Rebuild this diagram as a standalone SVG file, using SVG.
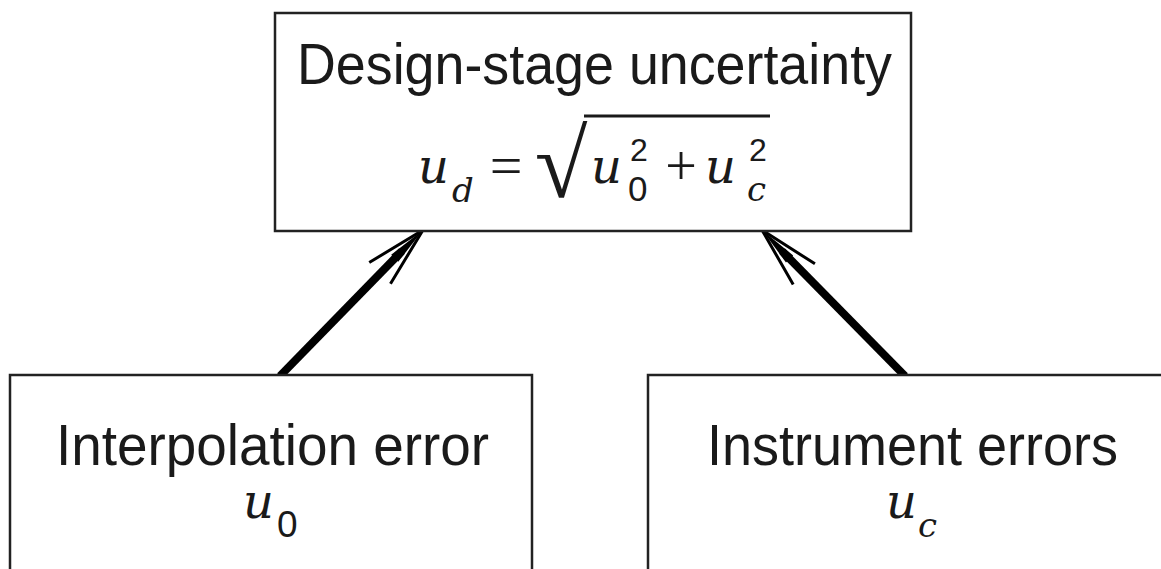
<svg xmlns="http://www.w3.org/2000/svg" width="1161" height="569" viewBox="0 0 1161 569">
<style>
.box{fill:#fff;stroke:#222;stroke-width:2.5}
.lbl{font-family:"Liberation Sans",Arial,sans-serif;font-size:57px;fill:#1a1a1a;text-anchor:middle}
.mi{font-family:"DejaVu Serif","Liberation Serif",serif;font-style:italic;fill:#1a1a1a}
.mn{font-family:"Liberation Sans",Arial,sans-serif;fill:#1a1a1a}
.mo{font-family:"Liberation Serif","Times New Roman",serif;fill:#1a1a1a;text-anchor:middle}
.edge{stroke:#000;stroke-width:8;fill:none}
</style>
<defs>
<marker id="arr" markerUnits="userSpaceOnUse" orient="auto" markerWidth="80" markerHeight="40" viewBox="-70 -20 80 40" refX="0" refY="0">
<path d="M-61,-15 L0,0 L-61,15" fill="none" stroke="#000" stroke-width="3"/>
<path d="M0,0 L-40,-5 L-40,5 Z" fill="#000"/>
</marker>
</defs>
<rect width="1161" height="569" fill="#fff"/>
<g id="connectors">
<line class="edge" x1="280" y1="376" x2="402" y2="251"/>
<path d="M402,251 L423,230" stroke="none" marker-end="url(#arr)"/>
<line class="edge" x1="905" y1="376" x2="782" y2="251"/>
<path d="M782,251 L762,230" stroke="none" marker-end="url(#arr)"/>
</g>
<g id="node-design">
<rect class="box" x="275" y="13" width="636" height="218"/>
<text class="lbl" x="594.5" y="84" textLength="595" lengthAdjust="spacingAndGlyphs">Design-stage uncertainty</text>
<text class="mi" x="418" y="183" font-size="48">u</text>
<text class="mi" x="452" y="202" font-size="34">d</text>
<text class="mo" x="506" y="185" font-size="58">=</text>
<text class="mo" x="561" y="197" font-size="96">√</text>
<line x1="584" y1="116" x2="770" y2="116" stroke="#1a1a1a" stroke-width="3"/>
<text class="mi" x="591" y="183" font-size="48">u</text>
<text class="mn" x="630" y="161" font-size="32">2</text>
<text class="mn" x="628" y="201" font-size="35">0</text>
<text class="mo" x="681" y="185" font-size="56">+</text>
<text class="mi" x="705" y="183" font-size="48">u</text>
<text class="mn" x="749" y="161" font-size="32">2</text>
<text class="mi" x="747" y="201" font-size="34">c</text>
</g>
<g id="node-interp">
<rect class="box" x="10" y="375" width="522" height="210"/>
<text class="lbl" x="272.5" y="465" textLength="433" lengthAdjust="spacingAndGlyphs">Interpolation error</text>
<text class="mi" x="243" y="518" font-size="48">u</text>
<text class="mn" x="277" y="537" font-size="37">0</text>
</g>
<g id="node-instr">
<rect class="box" x="648" y="375" width="530" height="210"/>
<text class="lbl" x="912.5" y="465" textLength="411" lengthAdjust="spacingAndGlyphs">Instrument errors</text>
<text class="mi" x="886" y="518" font-size="48">u</text>
<text class="mi" x="918" y="537" font-size="34">c</text>
</g>
</svg>
